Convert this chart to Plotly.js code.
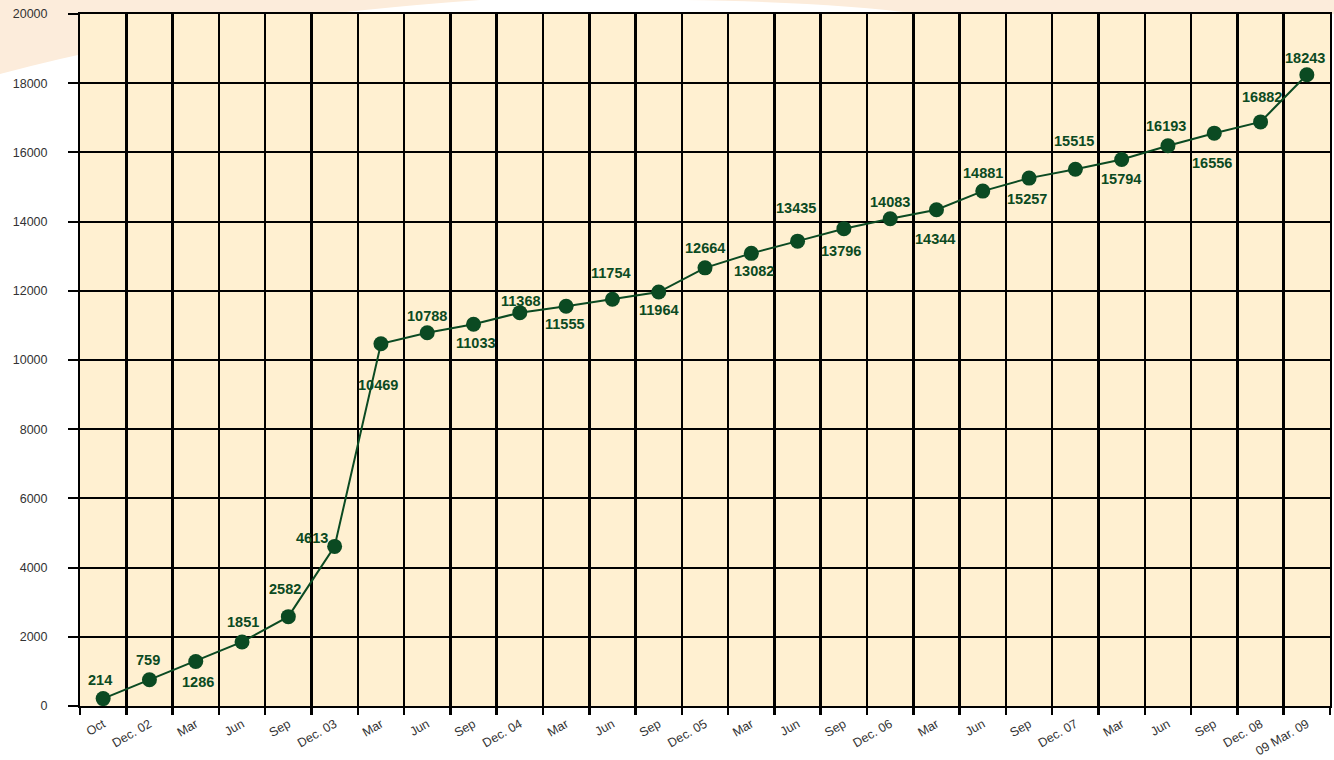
<!DOCTYPE html>
<html>
<head>
<meta charset="utf-8">
<script src="https://cdn.plot.ly/plotly-3.0.1.min.js"></script>
<style>
  html, body { margin: 0; padding: 0; background: #ffffff; }
  #chart { width: 1334px; height: 760px; }
</style>
</head>
<body>
<div id="chart"></div>
<script>
// ---- data ----
const periods = ["Oct", "Dec. 02", "Mar", "Jun", "Sep", "Dec. 03", "Mar", "Jun", "Sep", "Dec. 04",
  "Mar", "Jun", "Sep", "Dec. 05", "Mar", "Jun", "Sep", "Dec. 06", "Mar", "Jun", "Sep", "Dec. 07",
  "Mar", "Jun", "Sep", "Dec. 08", "09 Mar. 09"];
const totals = [214, 759, 1286, 1851, 2582, 4613, 10469, 10788, 11033, 11368, 11555, 11754, 11964,
  12664, 13082, 13435, 13796, 14083, 14344, 14881, 15257, 15515, 15794, 16193, 16556, 16882, 18243];
const yTicks = [0, 2000, 4000, 6000, 8000, 10000, 12000, 14000, 16000, 18000, 20000];

// ---- label placement (pixels: [dx, dy], dy down positive) ----
const labelOffsets = [[-3,-19],[-1,-20],[2,20],[1,-20],[-3,-28],[-23,-8],[-3,41],[0,-17],[2,19],
  [1,-12],[-1,18],[-1,-26],[0,18],[0,-20],[3,18],[-2,-33],[-3,22],[0,-17],[-1,29],[0,-18],[-2,21],
  [-1,-28],[-1,19],[-2,-20],[-2,30],[1,-25],[-2,-17]];

const GREEN = "#0b4a22";
const idx = periods.map((_, i) => i);

// plot area in pixels
const L = 80, R = 1330, T = 14, B = 706;
const W = 1334, H = 760;
const px = x => ((x - L) / (R - L)).toFixed(4);
const py = y => ((B - y) / (B - T)).toFixed(4);

const trace = {
  x: idx,
  y: totals,
  type: "scatter",
  mode: "lines+markers",
  line: { color: GREEN, width: 2 },
  marker: { color: GREEN, size: 15 },
  hoverinfo: "skip",
  showlegend: false
};

const annotations = totals.map((v, i) => ({
  x: i, y: v, xref: "x", yref: "y",
  text: String(v),
  showarrow: false,
  xshift: labelOffsets[i][0],
  yshift: -labelOffsets[i][1],
  font: { family: "Liberation Sans, Arial, sans-serif", size: 14.5, color: GREEN, weight: 700 }
}));

const PEACH = "#fcecdb";
const shapes = [
  { type: "path", xref: "paper", yref: "paper", layer: "below",
    path: `M ${px(0)},${py(0)} L ${px(480)},${py(0)} Q ${px(200)},${py(20)} ${px(0)},${py(74)} Z`,
    fillcolor: PEACH, line: { width: 0 } },
  { type: "path", xref: "paper", yref: "paper", layer: "below",
    path: `M ${px(685)},${py(0)} L ${px(W)},${py(0)} L ${px(W)},${py(T)} L ${px(920)},${py(T)} Q ${px(830)},${py(2)} ${px(685)},${py(0)} Z`,
    fillcolor: PEACH, line: { width: 0 } },
  { type: "rect", xref: "paper", yref: "paper", layer: "below",
    x0: 0, x1: 1, y0: 0, y1: 1, fillcolor: "#fff0d1", line: { width: 0 } }
];

const layout = {
  width: W, height: H,
  margin: { l: L, r: W - R, t: T, b: H - B, pad: 0 },
  paper_bgcolor: "#ffffff",
  plot_bgcolor: "rgba(0,0,0,0)",
  showlegend: false,
  shapes: shapes,
  annotations: annotations,
  xaxis: {
    type: "linear",
    range: [-0.5, periods.length - 0.5],
    tickmode: "array",
    tickvals: idx,
    ticktext: periods,
    ticks: "",
    showgrid: false,
    zeroline: false,
    tickangle: -30,
    ticklabelstandoff: 4,
    tickfont: { family: "Liberation Sans, Arial, sans-serif", size: 12.5, color: "#333333" },
    showline: true, mirror: true, linecolor: "#000000", linewidth: 2,
    minor: {
      tick0: -0.5, dtick: 1,
      showgrid: true, gridcolor: "#000000", gridwidth: 2.5,
      ticks: "outside", ticklen: 7, tickwidth: 2.5, tickcolor: "#000000"
    },
    fixedrange: true
  },
  yaxis: {
    range: [0, 20000],
    tickmode: "array",
    tickvals: yTicks,
    ticktext: yTicks.map(String),
    ticks: "outside", ticklen: 10, tickwidth: 2, tickcolor: "#000000",
    showgrid: true, gridcolor: "#000000", gridwidth: 2,
    zeroline: false,
    ticklabelstandoff: 18,
    tickfont: { family: "Liberation Sans, Arial, sans-serif", size: 12.5, color: "#333333" },
    showline: true, mirror: true, linecolor: "#000000", linewidth: 2,
    fixedrange: true
  }
};

Plotly.newPlot("chart", [trace], layout, { displayModeBar: false, staticPlot: true });
</script>
</body>
</html>
